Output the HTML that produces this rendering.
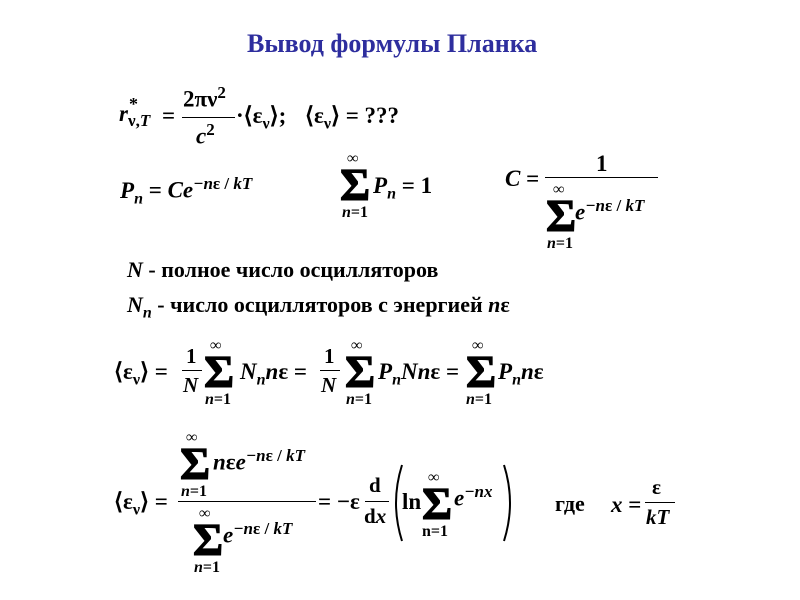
<!DOCTYPE html>
<html><head><meta charset="utf-8">
<style>
html,body{margin:0;padding:0;background:#fff;}
#c{position:relative;width:800px;height:600px;overflow:hidden;font-family:"Liberation Serif",serif;font-weight:bold;color:#000;}
.t{position:absolute;white-space:nowrap;line-height:1;}
i{font-style:italic;}
.s{font-size:46px;-webkit-text-stroke:1.2px #000;}
.sm{font-size:16px;}
.ln{position:absolute;height:1px;background:#000;}
sub{font-size:16px;}
sup{font-size:17px;}
</style></head><body><div id="c">
<div class="t" style="left:247px;top:31px;font-size:26px;color:#2e2e9e;">Вывод формулы Планка</div>

<!-- row 1 -->
<div class="t" style="left:119px;top:102px;font-size:23px;"><i>r</i></div>
<div class="t" style="left:129px;top:95px;font-size:18px;">*</div>
<div class="t" style="left:128px;top:112px;font-size:17px;">ν,<i>T</i></div>
<div class="t" style="left:162px;top:104px;font-size:23px;">=</div>
<div class="t" style="left:183px;top:84px;font-size:23px;">2πν<sup>2</sup></div>
<div class="ln" style="left:182px;top:117px;width:53px;"></div>
<div class="t" style="left:196px;top:121px;font-size:23px;"><i>c</i><sup>2</sup></div>
<div class="t" style="left:236px;top:104px;font-size:23px;">·⟨ε<sub>ν</sub>⟩;</div>
<div class="t" style="left:305px;top:104px;font-size:23px;">⟨ε<sub>ν</sub>⟩ = ???</div>

<!-- row 2 -->
<div class="t" style="left:120px;top:175px;font-size:23px;"><i>P<sub>n</sub></i> = <i>Ce</i><sup><i>−n</i>ε / <i>kT</i></sup></div>
<div class="t sm" style="left:347px;top:151px;">∞</div>
<div class="t s" style="left:340px;top:162px;">Σ</div>
<div class="t sm" style="left:342px;top:205px;"><i>n</i>=1</div>
<div class="t" style="left:373px;top:174px;font-size:23px;"><i>P<sub>n</sub></i> = 1</div>

<div class="t" style="left:505px;top:167px;font-size:23px;"><i>C</i> =</div>
<div class="t" style="left:596px;top:152px;font-size:23px;">1</div>
<div class="ln" style="left:545px;top:177px;width:113px;"></div>
<div class="t sm" style="left:553px;top:182px;">∞</div>
<div class="t s" style="left:546px;top:193px;">Σ</div>
<div class="t sm" style="left:547px;top:236px;"><i>n</i>=1</div>
<div class="t" style="left:575px;top:197px;font-size:23px;"><i>e</i><sup><i>−n</i>ε / <i>kT</i></sup></div>

<!-- text lines -->
<div class="t" style="left:127px;top:259px;font-size:22px;"><i>N</i> - полное число осцилляторов</div>
<div class="t" style="left:127px;top:294px;font-size:22px;"><i>N<sub>n</sub></i> - число осцилляторов с энергией <i>n</i>ε</div>

<!-- row 3 -->
<div class="t" style="left:114px;top:360px;font-size:23px;">⟨ε<sub>ν</sub>⟩ =</div>
<div class="t" style="left:186px;top:346px;font-size:21px;">1</div>
<div class="ln" style="left:182px;top:370px;width:20px;"></div>
<div class="t" style="left:183px;top:375px;font-size:21px;"><i>N</i></div>
<div class="t sm" style="left:210px;top:338px;">∞</div>
<div class="t s" style="left:204px;top:349px;">Σ</div>
<div class="t sm" style="left:205px;top:392px;"><i>n</i>=1</div>
<div class="t" style="left:240px;top:360px;font-size:23px;"><i>N<sub>n</sub>n</i>ε =</div>
<div class="t" style="left:324px;top:346px;font-size:21px;">1</div>
<div class="ln" style="left:320px;top:370px;width:20px;"></div>
<div class="t" style="left:321px;top:375px;font-size:21px;"><i>N</i></div>
<div class="t sm" style="left:351px;top:338px;">∞</div>
<div class="t s" style="left:345px;top:349px;">Σ</div>
<div class="t sm" style="left:346px;top:392px;"><i>n</i>=1</div>
<div class="t" style="left:378px;top:360px;font-size:23px;"><i>P<sub>n</sub>Nn</i>ε =</div>
<div class="t sm" style="left:472px;top:338px;">∞</div>
<div class="t s" style="left:466px;top:349px;">Σ</div>
<div class="t sm" style="left:466px;top:392px;"><i>n</i>=1</div>
<div class="t" style="left:498px;top:360px;font-size:23px;"><i>P<sub>n</sub>n</i>ε</div>

<!-- row 4 -->
<div class="t" style="left:114px;top:490px;font-size:23px;">⟨ε<sub>ν</sub>⟩ =</div>
<div class="t sm" style="left:186px;top:430px;">∞</div>
<div class="t s" style="left:180px;top:441px;">Σ</div>
<div class="t sm" style="left:181px;top:484px;"><i>n</i>=1</div>
<div class="t" style="left:213px;top:447px;font-size:23px;"><i>n</i>ε<i>e</i><sup><i>−n</i>ε / <i>kT</i></sup></div>
<div class="ln" style="left:178px;top:501px;width:138px;"></div>
<div class="t sm" style="left:199px;top:506px;">∞</div>
<div class="t s" style="left:193px;top:517px;">Σ</div>
<div class="t sm" style="left:194px;top:560px;"><i>n</i>=1</div>
<div class="t" style="left:223px;top:520px;font-size:23px;"><i>e</i><sup><i>−n</i>ε / <i>kT</i></sup></div>
<div class="t" style="left:318px;top:490px;font-size:23px;">= −ε</div>
<div class="t" style="left:369px;top:475px;font-size:21px;">d</div>
<div class="ln" style="left:365px;top:501px;width:24px;"></div>
<div class="t" style="left:364px;top:506px;font-size:21px;">d<i>x</i></div>
<svg style="position:absolute;left:388px;top:462px" width="130" height="82">
<path d="M14 3 Q2 41 14 79" stroke="#000" stroke-width="2" fill="none"/>
<path d="M116 3 Q128 41 116 79" stroke="#000" stroke-width="2" fill="none"/>
</svg>
<div class="t" style="left:402px;top:490px;font-size:23px;">ln</div>
<div class="t sm" style="left:428px;top:470px;">∞</div>
<div class="t s" style="left:422px;top:481px;">Σ</div>
<div class="t sm" style="left:422px;top:524px;">n=1</div>
<div class="t" style="left:454px;top:483px;font-size:23px;"><i>e</i><sup><i>−nx</i></sup></div>
<div class="t" style="left:555px;top:493px;font-size:22px;">где</div>
<div class="t" style="left:611px;top:493px;font-size:23px;"><i>x</i> =</div>
<div class="t" style="left:652px;top:477px;font-size:21px;">ε</div>
<div class="ln" style="left:645px;top:502px;width:30px;"></div>
<div class="t" style="left:646px;top:507px;font-size:21px;"><i>kT</i></div>
</div></body></html>
